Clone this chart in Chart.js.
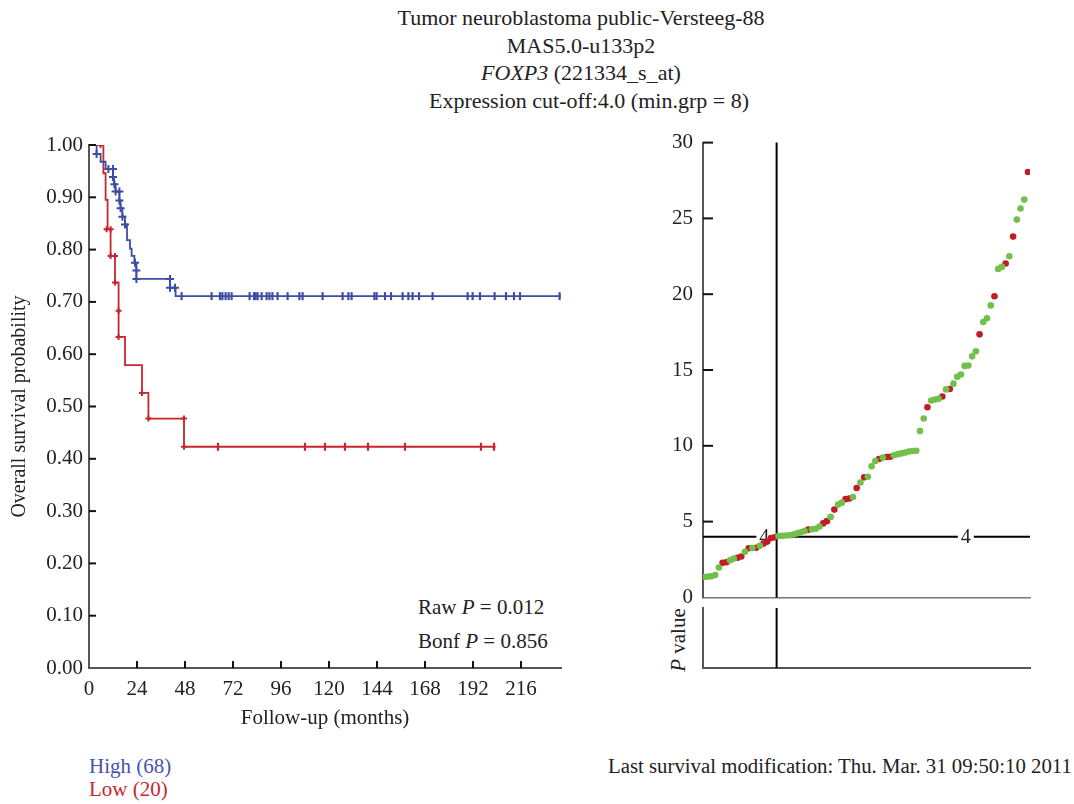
<!DOCTYPE html>
<html>
<head>
<meta charset="utf-8">
<script src="https://cdn.jsdelivr.net/npm/chart.js@4.4.0/dist/chart.umd.min.js"></script>
<style>
  body { margin: 0; background: #fff; width: 1074px; height: 804px; position: relative; overflow: hidden;
         font-family: "Liberation Serif", "Times New Roman", serif; color: #222; }
  .txt { position: absolute; white-space: nowrap; font-size: 21px; line-height: 22px; }
  canvas { position: absolute; }
</style>
</head>
<body>

<div class="txt" style="left:0;top:4px;width:1162px;text-align:center;line-height:27.5px;font-size:22px">
  Tumor neuroblastoma public-Versteeg-88<br>
  MAS5.0-u133p2<br>
  <i>FOXP3</i> (221334_s_at)<br>
  <span style="position:relative;left:8px">Expression cut-off:4.0 (min.grp = 8)</span>
</div>

<div class="txt" style="left:418px;top:596px">Raw <i>P</i> = 0.012</div>
<div class="txt" style="left:418px;top:630px">Bonf <i>P</i> = 0.856</div>

<div class="txt" style="left:89px;top:755px;color:rgb(72,84,172)">High (68)</div>
<div class="txt" style="left:89px;top:778px;color:rgb(197,40,45)">Low (20)</div>
<div class="txt" style="left:608px;top:755px;font-size:20.8px">Last survival modification: Thu. Mar. 31 09:50:10 2011</div>

<div class="txt" style="left:678px;top:640px;transform:translate(-50%,-50%) rotate(-90deg)"><i>P</i> value</div>

<canvas id="km" width="590" height="620" style="left:0;top:120px"></canvas>
<canvas id="expr" width="430" height="500" style="left:640px;top:120px"></canvas>
<canvas id="pval" width="430" height="80" style="left:640px;top:600px"></canvas>

<script>
// shortcut
let $ = document
const SERIF = '"Liberation Serif", "Times New Roman", serif'
const BLUE = 'rgb(62,76,165)'
const RED = 'rgb(200,38,44)'

// Kaplan-Meier, High group (68): step times (months) and survival after each step
const highTimes = [0, 3.8, 5.8, 8.3, 12, 12.5, 13.3, 15.2, 15.8, 16.7, 18, 19, 20.5, 21.3, 22.7, 23.7, 23.7, 40.5, 43.3, 236]
const highSurv = [1, 0.983, 0.968, 0.954, 0.939, 0.925, 0.911, 0.894, 0.879, 0.863, 0.848, 0.818, 0.802, 0.788, 0.775, 0.760, 0.744, 0.727, 0.711, 0.711]
// censored (follow-up ends) on the high curve
const highCensorTimes = [46.3, 61.3, 65.5, 66.7, 68.3, 69.8, 71.3, 80.3, 82.5, 83.3, 84.3, 86.3, 88.8, 90.2, 91.7,
  94.3, 99.3, 105.2, 106.8, 116.8, 126.8, 129.7, 131.3, 142.7, 143.8, 148, 151, 156.8, 159.7, 161.8, 165,
  171.8, 189.3, 191.8, 195.5, 202.8, 208.5, 212.5, 215.5, 235.3]
const highCrossTimes = [3.8, 9.7, 12, 12, 12.7, 13.3, 15.2, 15.2, 15.8, 16.7, 18, 23, 23.7, 23.7, 40.5, 40.5, 43]
const highCrossSurv = [0.983, 0.954, 0.954, 0.939, 0.925, 0.911, 0.911, 0.894, 0.879, 0.863, 0.848, 0.775, 0.760, 0.744, 0.744, 0.727, 0.727]

// Kaplan-Meier, Low group (20)
const lowTimes = [0, 7.2, 8.3, 9.3, 10.8, 13, 14.8, 14.8, 18, 26.5, 29.7, 47.5, 203.3]
const lowSurv = [1, 0.946, 0.895, 0.839, 0.788, 0.737, 0.683, 0.633, 0.579, 0.526, 0.477, 0.423, 0.423]
const lowCensorTimes = [64.5, 108, 118, 128, 139.5, 158, 196, 202.5]
const lowCrossTimes = [5.8, 8.8, 10.8, 10.8, 13, 13, 14.8, 14.8, 26.5, 29.7, 47.5, 47.5]
const lowCrossSurv = [1, 0.839, 0.839, 0.788, 0.788, 0.737, 0.683, 0.633, 0.526, 0.477, 0.477, 0.423]

// sorted expression (right panel), 20 low + 68 high, and status (1 = dead)
const exprLow = [1.35, 1.37, 1.40, 1.48, 1.97, 2.28, 2.32, 2.45, 2.56, 2.62, 2.70, 3.01, 3.24, 3.26, 3.28, 3.40, 3.55, 3.68, 3.92, 3.97]
const deadLow = [0, 0, 0, 0, 0, 1, 1, 0, 0, 1, 1, 0, 1, 0, 1, 0, 1, 1, 1, 1]
const exprHigh = [4.05, 4.07, 4.08, 4.10, 4.15, 4.22, 4.30, 4.38, 4.47, 4.50,
  4.53, 4.68, 4.88, 5.03, 5.31, 5.79, 6.12, 6.25, 6.48, 6.52,
  6.62, 7.22, 7.58, 7.92, 7.96, 8.65, 9.00, 9.13, 9.22, 9.26,
  9.28, 9.38, 9.45, 9.50, 9.55, 9.62, 9.66, 9.67, 10.97, 11.80,
  12.54, 12.99, 13.05, 13.10, 13.25, 13.72, 13.75, 14.10, 14.55, 14.70,
  15.27, 15.30, 15.90, 16.24, 17.35, 18.17, 18.41, 19.26, 19.86, 21.67,
  21.80, 22.03, 22.50, 23.80, 24.92, 25.65, 26.24, 28.06]
const deadHigh = [0, 0, 0, 0, 0, 0, 0, 0, 1, 0,
  0, 0, 1, 1, 0, 1, 0, 0, 1, 1,
  0, 1, 0, 1, 0, 0, 0, 1, 0, 1,
  1, 0, 0, 0, 0, 0, 0, 0, 0, 0,
  1, 0, 0, 0, 1, 0, 1, 0, 0, 0,
  0, 0, 0, 0, 1, 0, 0, 0, 1, 0,
  0, 1, 0, 1, 0, 0, 0, 1]
const cutoff = 4.0
const kmTicks = [0, 24, 48, 72, 96, 120, 144, 168, 192, 216]

// helpers
const pts = (xs, ys) => xs.map((x, i) => ({ x: x, y: ys[i] }))
const flat = (xs, y) => xs.map(x => ({ x: x, y: y }))
const font = (size, style) => ({ family: SERIF, size: size, style: style || 'normal' })

// ticks pointing into the plot, like the reference
const innerTicks = {
  id: 'innerTicks',
  afterDraw(chart, args, opts) {
    if (!opts.axes) return
    const ctx = chart.ctx
    ctx.save()
    ctx.strokeStyle = '#111'
    ctx.lineWidth = 2
    opts.axes.forEach(id => {
      const s = chart.scales[id]
      s.ticks.forEach(t => {
        const p = s.getPixelForValue(t.value)
        ctx.beginPath()
        if (s.isHorizontal()) {
          if (p <= s.left + 2) return
          ctx.moveTo(p, s.top); ctx.lineTo(p, s.top - opts.len)
        } else {
          if (p >= s.bottom - 2) return
          ctx.moveTo(s.right, p); ctx.lineTo(s.right + opts.len, p)
        }
        ctx.stroke()
      })
    })
    ctx.restore()
  }
}

// cut-off lines on the expression panels
const cutLines = {
  id: 'cutLines',
  beforeDatasetsDraw(chart, args, opts) {
    const ctx = chart.ctx
    const a = chart.chartArea
    const x = chart.scales.x.getPixelForValue(opts.index)
    ctx.save()
    ctx.strokeStyle = '#000'
    ctx.lineWidth = 2
    ctx.beginPath()
    ctx.moveTo(x, a.top); ctx.lineTo(x, a.bottom)
    if (opts.level != null) {
      const y = chart.scales.y.getPixelForValue(opts.level)
      ctx.moveTo(a.left, y); ctx.lineTo(a.right, y)
    }
    ctx.stroke()
    if (opts.labelAt) {
      const y = chart.scales.y.getPixelForValue(opts.level)
      ctx.font = '20px ' + SERIF
      ctx.textAlign = 'center'
      ctx.textBaseline = 'middle'
      opts.labelAt.forEach(v => {
        const lx = chart.scales.x.getPixelForValue(v)
        ctx.fillStyle = '#fff'
        ctx.fillRect(lx - 8, y - 3, 16, 6)
        ctx.fillStyle = '#222'
        ctx.fillText(String(opts.level), lx, y + 1)
      })
    }
    ctx.restore()
  }
}

const noPlugins = { legend: { display: false }, tooltip: { enabled: false } }

// Kaplan-Meier chart
new Chart($.getElementById('km'), {
  type: 'scatter',
  data: {
    datasets: [
      { data: pts(highTimes, highSurv), showLine: true, stepped: true, borderColor: BLUE, borderWidth: 1.8, pointRadius: 0 },
      { data: pts(lowTimes, lowSurv), showLine: true, stepped: true, borderColor: RED, borderWidth: 1.8, pointRadius: 0 },
      { data: flat(highCensorTimes, highSurv[highSurv.length - 1]), pointStyle: 'line', rotation: 90, radius: 4, borderColor: BLUE, borderWidth: 2.2 },
      { data: flat(lowCensorTimes, lowSurv[lowSurv.length - 1]), pointStyle: 'line', rotation: 90, radius: 4, borderColor: RED, borderWidth: 2.2 },
      { data: pts(highCrossTimes, highCrossSurv), pointStyle: 'cross', radius: 4, borderColor: BLUE, borderWidth: 2 },
      { data: pts(lowCrossTimes, lowCrossSurv), pointStyle: 'cross', radius: 3, borderColor: RED, borderWidth: 2 }
    ]
  },
  options: {
    responsive: false,
    animation: false,
    layout: { padding: { top: 25, right: 29, left: 0, bottom: 0 } },
    plugins: Object.assign({ innerTicks: { axes: ['x', 'y'], len: 7 } }, noPlugins),
    scales: {
      x: {
        type: 'linear', min: 0, max: 236,
        afterFit: s => { s.height = 72 },
        afterBuildTicks: s => { s.ticks = kmTicks.map(v => ({ value: v })) },
        ticks: { padding: 9, color: '#222', font: font(21) },
        grid: { display: false, drawTicks: false },
        border: { color: '#555', width: 2 },
        title: { display: true, text: 'Follow-up (months)', color: '#222', font: font(21), padding: { bottom: 9 } }
      },
      y: {
        min: 0, max: 1,
        afterFit: s => { s.width = 89 },
        ticks: { stepSize: 0.1, padding: 6, color: '#222', font: font(21), callback: v => v.toFixed(2) },
        grid: { display: false, drawTicks: false },
        border: { color: '#555', width: 2 },
        title: { display: true, text: 'Overall survival probability', color: '#222', font: font(20), padding: { top: 8 } }
      }
    }
  },
  plugins: [innerTicks]
})

// expression panel
const exprAll = exprLow.concat(exprHigh)
const deadAll = deadLow.concat(deadHigh)
const alivePts = []
const deadPts = []
exprAll.forEach(function (v, i) {
  if (deadAll[i]) deadPts.push({ x: i + 1, y: v })
  else alivePts.push({ x: i + 1, y: v })
})
const xMin = 0.73
const xMax = 88.54

new Chart($.getElementById('expr'), {
  type: 'scatter',
  data: {
    datasets: [
      { data: alivePts, backgroundColor: 'rgb(112,192,74)', borderWidth: 0, pointRadius: 3.3 },
      { data: deadPts, backgroundColor: 'rgb(192,30,36)', borderWidth: 0, pointRadius: 3.3 }
    ]
  },
  options: {
    responsive: false,
    animation: false,
    layout: { padding: { top: 21, right: 40, left: 0, bottom: 0 } },
    plugins: Object.assign({
      innerTicks: { axes: ['y'], len: 10 },
      cutLines: { index: exprLow.length + 0.5, level: cutoff, labelAt: [17.2, 71.3] }
    }, noPlugins),
    scales: {
      x: {
        type: 'linear', min: xMin, max: xMax,
        afterFit: s => { s.height = 18 },
        ticks: { display: false },
        grid: { display: false, drawTicks: false },
        border: { color: '#777', width: 1.5 }
      },
      y: {
        min: 0, max: 30,
        afterFit: s => { s.width = 63 },
        ticks: { stepSize: 5, padding: 10, color: '#222', font: font(21) },
        grid: { display: false, drawTicks: false },
        border: { color: '#555', width: 2 }
      }
    }
  },
  plugins: [innerTicks, cutLines]
})

// P value panel (empty, only frame and cut line)
new Chart($.getElementById('pval'), {
  type: 'scatter',
  data: { datasets: [{ data: [] }] },
  options: {
    responsive: false,
    animation: false,
    layout: { padding: { top: 8, right: 40, left: 0, bottom: 0 } },
    plugins: Object.assign({ cutLines: { index: exprLow.length + 0.5 } }, noPlugins),
    scales: {
      x: {
        type: 'linear', min: xMin, max: xMax,
        afterFit: s => { s.height = 12 },
        ticks: { display: false },
        grid: { display: false, drawTicks: false },
        border: { color: '#555', width: 2 }
      },
      y: {
        min: 0, max: 1,
        afterFit: s => { s.width = 63 },
        ticks: { display: false },
        grid: { display: false, drawTicks: false },
        border: { color: '#555', width: 2 }
      }
    }
  },
  plugins: [cutLines]
})
</script>
</body>
</html>
